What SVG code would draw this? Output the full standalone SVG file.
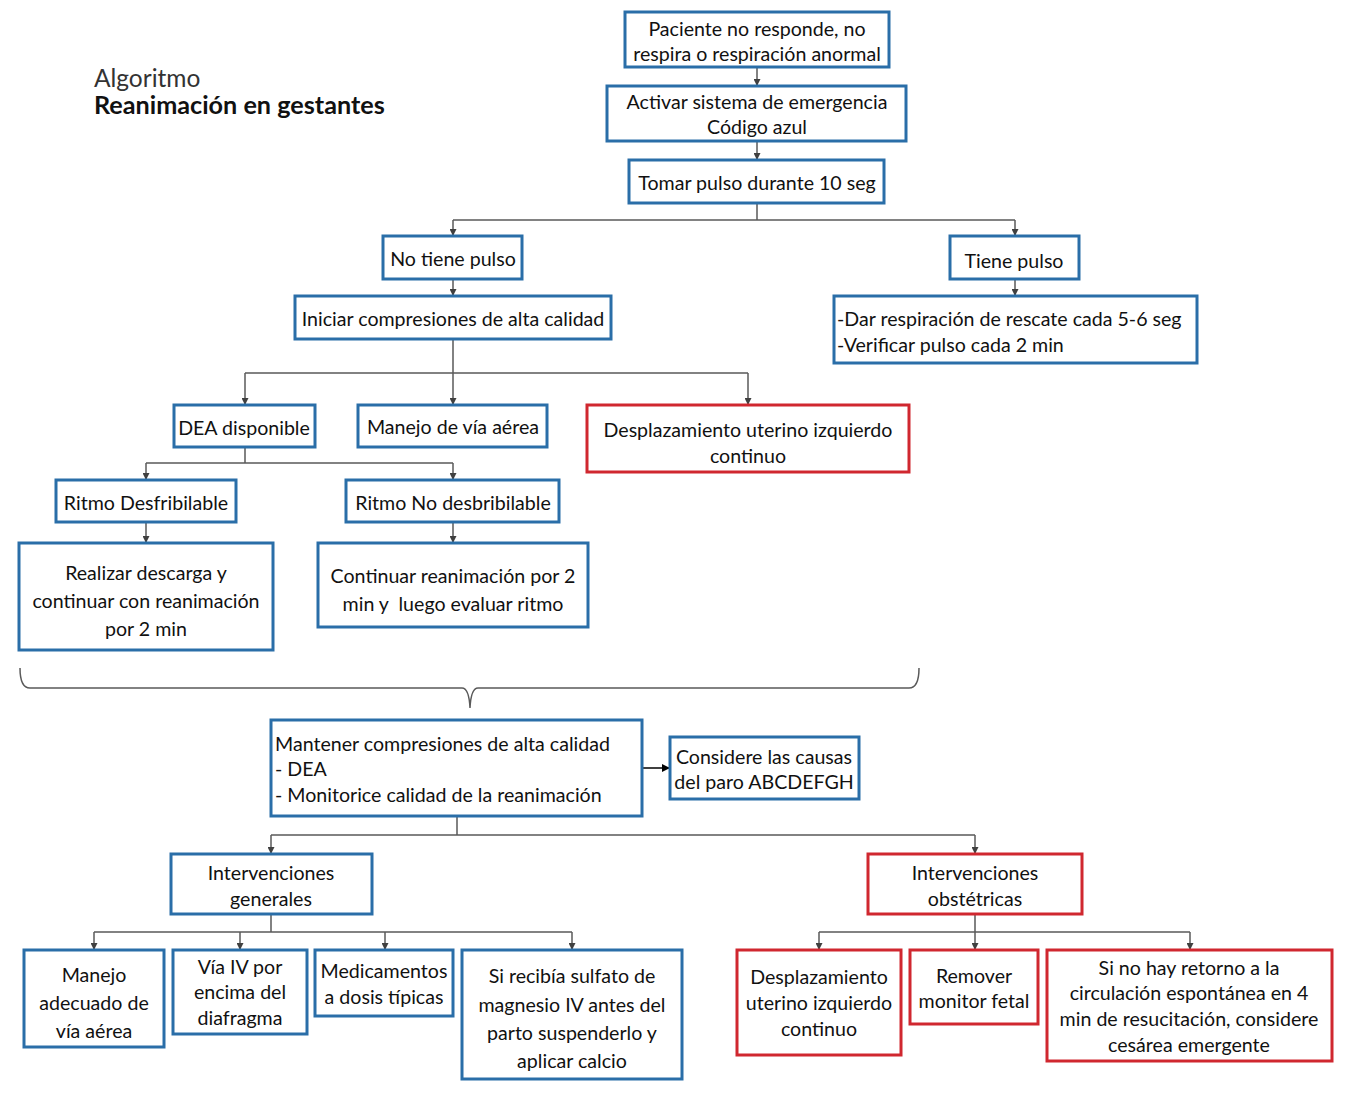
<svg xmlns="http://www.w3.org/2000/svg" width="1350" height="1097" viewBox="0 0 1350 1097">
<defs>
<marker id="ah" viewBox="0 0 10 10" refX="10" refY="5" markerWidth="7" markerHeight="7" markerUnits="userSpaceOnUse" orient="auto">
<path d="M0,0 L10,5 L0,10 z" fill="#404040"/>
</marker>
<marker id="ahb" viewBox="0 0 10 10" refX="10" refY="5" markerWidth="8" markerHeight="8" markerUnits="userSpaceOnUse" orient="auto">
<path d="M0,0 L10,5 L0,10 z" fill="#000"/>
</marker>
</defs>
<style>
.b{fill:#fff;stroke:#2a6ea8;stroke-width:3}
.r{fill:#fff;stroke:#d0272f;stroke-width:3}
text{font-family:Lato,"Liberation Sans",sans-serif;font-size:19.6px;fill:#111;dominant-baseline:central}
.c{text-anchor:middle}
.ln{fill:none;stroke:#5a5a5a;stroke-width:1.5}
.a{marker-end:url(#ah)}
</style>
<rect width="1350" height="1097" fill="#fff"/>
<g id="title">
<text x="94" y="77" style="font-size:24.5px;fill:#333">Algoritmo</text>
<text x="94" y="104" style="font-size:25.2px;font-weight:bold;fill:#111">Reanimación en gestantes</text>
</g>
<g id="connectors">
<path class="ln a" d="M757,67 V86"/>
<path class="ln a" d="M757,141 V160"/>
<path class="ln" d="M757,203 V220 M453,220 H1015"/>
<path class="ln a" d="M453,220 V236"/>
<path class="ln a" d="M1015,220 V236"/>
<path class="ln a" d="M453,279 V296"/>
<path class="ln a" d="M1015,279 V296"/>
<path class="ln" d="M453,339 V373 M245,373 H748"/>
<path class="ln a" d="M245,373 V405"/>
<path class="ln a" d="M453,373 V405"/>
<path class="ln a" d="M748,373 V405"/>
<path class="ln" d="M245,447 V463 M146,463 H453"/>
<path class="ln a" d="M146,463 V480"/>
<path class="ln a" d="M453,463 V480"/>
<path class="ln a" d="M146,522 V543"/>
<path class="ln a" d="M453,522 V543"/>
<path class="ln" d="M20,668 Q20,688 30,688 H462 Q469,688 470,708 Q471,688 478,688 H909 Q919,688 919,668"/>
<path d="M642,768 H670" fill="none" stroke="#000" stroke-width="1.5" marker-end="url(#ahb)"/>
<path class="ln" d="M457,816 V835 M271,835 H975"/>
<path class="ln a" d="M271,835 V854"/>
<path class="ln a" d="M975,835 V854"/>
<path class="ln" d="M271,914 V932 M94,932 H572"/>
<path class="ln a" d="M94,932 V950"/>
<path class="ln a" d="M240,932 V950"/>
<path class="ln a" d="M385,932 V950"/>
<path class="ln a" d="M572,932 V950"/>
<path class="ln" d="M975,914 V932 M819,932 H1190"/>
<path class="ln a" d="M819,932 V950"/>
<path class="ln a" d="M975,932 V950"/>
<path class="ln a" d="M1190,932 V950"/>
</g>
<g id="n1"><rect class="b" x="625" y="12" width="264" height="55"/><text class="c" x="757" y="28">Paciente no responde, no</text><text class="c" x="757" y="53">respira o respiración anormal</text></g>
<g id="n2"><rect class="b" x="607" y="86" width="299" height="55"/><text class="c" x="757" y="101">Activar sistema de emergencia</text><text class="c" x="757" y="126">Código azul</text></g>
<g id="n3"><rect class="b" x="629" y="160" width="255" height="43"/><text class="c" x="757" y="182">Tomar pulso durante 10 seg</text></g>
<g id="n4"><rect class="b" x="383" y="236" width="139" height="43"/><text class="c" x="453" y="258">No tiene pulso</text></g>
<g id="n5"><rect class="b" x="950" y="236" width="129" height="43"/><text class="c" x="1014" y="260">Tiene pulso</text></g>
<g id="n6"><rect class="b" x="295" y="296" width="316" height="43"/><text class="c" x="453" y="318">Iniciar compresiones de alta calidad</text></g>
<g id="n7"><rect class="b" x="834" y="296" width="363" height="67"/><text x="837" y="318">-Dar respiración de rescate cada 5-6 seg</text><text x="837" y="344">-Verificar pulso cada 2 min</text></g>
<g id="n8"><rect class="b" x="174" y="405" width="141" height="42"/><text class="c" x="244" y="427">DEA disponible</text></g>
<g id="n9"><rect class="b" x="358" y="405" width="189" height="42"/><text class="c" x="453" y="426">Manejo de vía aérea</text></g>
<g id="n10"><rect class="r" x="587" y="405" width="322" height="67"/><text class="c" x="748" y="429">Desplazamiento uterino izquierdo</text><text class="c" x="748" y="455">continuo</text></g>
<g id="n11"><rect class="b" x="56" y="480" width="180" height="42"/><text class="c" x="146" y="502">Ritmo Desfribilable</text></g>
<g id="n12"><rect class="b" x="346" y="480" width="213" height="42"/><text class="c" x="453" y="502">Ritmo No desbribilable</text></g>
<g id="n13"><rect class="b" x="19" y="543" width="254" height="107"/><text class="c" x="146" y="572">Realizar descarga y</text><text class="c" x="146" y="600">continuar con reanimación</text><text class="c" x="146" y="628">por 2 min</text></g>
<g id="n14"><rect class="b" x="318" y="543" width="270" height="84"/><text class="c" x="453" y="575">Continuar reanimación por 2</text><text class="c" x="453" y="603" xml:space="preserve">min y  luego evaluar ritmo</text></g>
<g id="n15"><rect class="b" x="271" y="720" width="371" height="96"/><text x="275" y="743">Mantener compresiones de alta calidad</text><text x="275" y="768">- DEA</text><text x="275" y="794">- Monitorice calidad de la reanimación</text></g>
<g id="n16"><rect class="b" x="670" y="737" width="189" height="62"/><text class="c" x="764" y="756">Considere las causas</text><text class="c" x="764" y="781">del paro ABCDEFGH</text></g>
<g id="n17"><rect class="b" x="171" y="854" width="201" height="60"/><text class="c" x="271" y="872">Intervenciones</text><text class="c" x="271" y="898">generales</text></g>
<g id="n18"><rect class="r" x="868" y="854" width="214" height="60"/><text class="c" x="975" y="872">Intervenciones</text><text class="c" x="975" y="898">obstétricas</text></g>
<g id="n19"><rect class="b" x="24" y="950" width="140" height="97"/><text class="c" x="94" y="974">Manejo</text><text class="c" x="94" y="1002">adecuado de</text><text class="c" x="94" y="1030">vía aérea</text></g>
<g id="n20"><rect class="b" x="173" y="950" width="134" height="84"/><text class="c" x="240" y="966">Vía IV por</text><text class="c" x="240" y="991">encima del</text><text class="c" x="240" y="1017">diafragma</text></g>
<g id="n21"><rect class="b" x="315" y="950" width="138" height="66"/><text class="c" x="384" y="970">Medicamentos</text><text class="c" x="384" y="996">a dosis típicas</text></g>
<g id="n22"><rect class="b" x="462" y="950" width="220" height="129"/><text class="c" x="572" y="975">Si recibía sulfato de</text><text class="c" x="572" y="1004">magnesio IV antes del</text><text class="c" x="572" y="1032">parto suspenderlo y</text><text class="c" x="572" y="1060">aplicar calcio</text></g>
<g id="n23"><rect class="r" x="737" y="950" width="164" height="105"/><text class="c" x="819" y="976">Desplazamiento</text><text class="c" x="819" y="1002">uterino izquierdo</text><text class="c" x="819" y="1028">continuo</text></g>
<g id="n24"><rect class="r" x="910" y="950" width="128" height="74"/><text class="c" x="974" y="975">Remover</text><text class="c" x="974" y="1000">monitor fetal</text></g>
<g id="n25"><rect class="r" x="1047" y="950" width="285" height="111"/><text class="c" x="1189" y="967">Si no hay retorno a la</text><text class="c" x="1189" y="992">circulación espontánea en 4</text><text class="c" x="1189" y="1018">min de resucitación, considere</text><text class="c" x="1189" y="1044">cesárea emergente</text></g>
</svg>
